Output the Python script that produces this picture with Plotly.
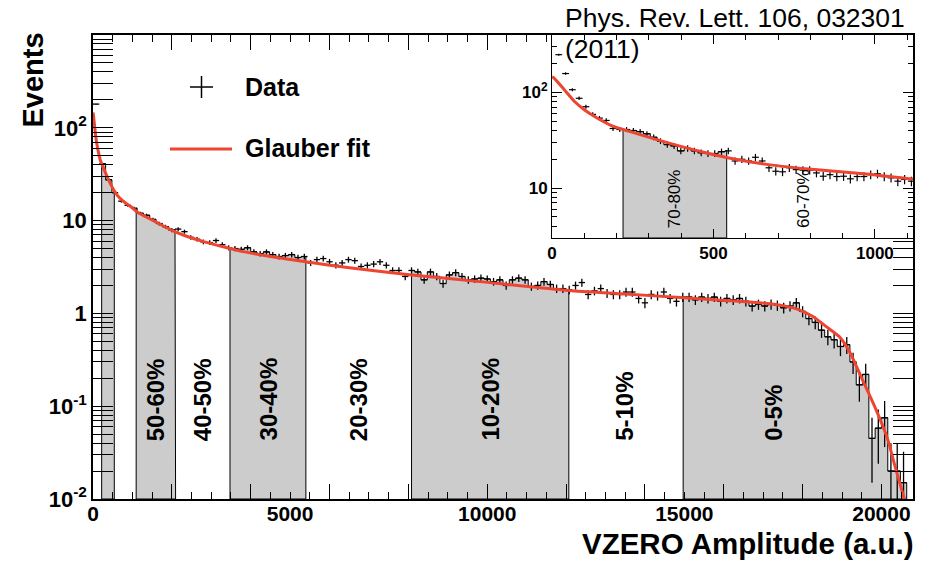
import numpy as np
import plotly.graph_objects as go

# ---------------- data ----------------
# main histogram (VZERO amplitude), bin width 160 a.u., starting at 0
hist_width = 160
hist_vals = [
    180, 41, 27.5, 20, 16.2, 14.6, 13.6, 12.0, 11.4, 10.3,
    9.3, 8.6, 7.9, 8.1, 7.6, 6.6, 6.3, 5.9, 5.8, 6.1,
    5.5, 5.1, 5.0, 4.9, 5.1, 4.6, 4.4, 4.6, 4.3, 4.1,
    4.2, 4.3, 4.0, 4.1, 3.5, 3.8, 3.9, 3.6, 3.3, 3.5,
    3.8, 3.7, 3.2, 3.3, 3.4, 3.6, 3.3, 2.9, 2.9, 2.5,
    2.9, 2.8, 2.3, 2.8, 2.5, 2.1, 2.6, 2.75, 2.5, 2.3,
    2.35, 2.4, 2.35, 2.2, 2.3, 2.0, 2.3, 2.4, 2.3, 1.95,
    2.0, 2.2, 2.05, 1.85, 1.85, 1.8, 2.0, 2.15, 1.6, 1.75,
    1.85, 1.65, 1.6, 1.6, 1.7, 1.7, 1.45, 1.3, 1.6, 1.55,
    1.7, 1.45, 1.35, 1.5, 1.5, 1.4, 1.5, 1.45, 1.5, 1.35,
    1.45, 1.4, 1.45, 1.35, 1.2, 1.25, 1.2, 1.25, 1.22, 1.15,
    1.2, 1.3, 1.05, 0.88, 0.80, 0.66, 0.56, 0.52, 0.44, 0.46,
    0.30, 0.17, 0.22, 0.045, 0.058, 0.075, 0.02, 0.02, 0.015,
]

# inset histogram (low amplitude region), bin width 21 a.u.
inset_width = 21
inset_vals = [
    249, 158, 107, 87, 71, 59, 54, 51, 42, 41,
    41, 40, 39, 37, 34, 31, 28.5, 27.6, 24.5, 26,
    24.5, 23.4, 23, 23, 24, 24.5, 19.2, 20, 19.2, 21,
    19.2, 16.3, 15, 14.8, 16.3, 15.6, 15.4, 15.4, 14.4, 13.3,
    13.8, 13.2, 13.3, 12.5, 13.2, 13.2, 13.8, 14.1, 13.2, 12.8,
    11.8, 12.3, 11.8,
]

# Glauber fit curve
fit_x = [0, 6, 38, 69, 100, 132, 184, 220, 288, 393, 476, 540, 659, 795, 973,
         1119, 1300, 1565, 2070, 2410, 2830, 3250, 3850, 4500, 5400, 6500, 8080,
         9800, 12070, 13500, 15000, 16000, 16900, 17400, 17900, 18250, 18600,
         18950, 19200, 19550, 19870, 20150, 20350, 20580]
fit_y = [146, 142, 107, 81, 66, 56, 45, 41, 35, 27.6, 23.4, 20.9, 17.8, 15.8, 14.0,
         12.4, 11.2, 9.8, 7.6, 6.7, 5.9, 5.3, 4.6, 4.1, 3.6, 3.1, 2.6,
         2.2, 1.76, 1.62, 1.47, 1.38, 1.30, 1.23, 1.10, 0.93, 0.72,
         0.55, 0.38, 0.18, 0.09, 0.045, 0.022, 0.01]

# centrality class boundaries (a.u.)
gray_bands = [(220, 540), (1095, 2095), (3475, 5400), (8080, 12070), (14970, 20640)]
band_labels = ["50-60%", "40-50%", "30-40%", "20-30%", "10-20%", "5-10%", "0-5%"]
label_x = [1595, 2785, 4440, 6740, 10075, 13480, 17270]
inset_band = (220, 541)
inset_labels = ["70-80%", "60-70%"]
inset_label_x = [380, 779]

x_tick_vals = [0, 5000, 10000, 15000, 20000]
x_tick_text = ["0", "5000", "10000", "15000", "20000"]
y_tick_vals = [0.01, 0.1, 1, 10, 100]
y_tick_text = ["10<sup>-2</sup>", "10<sup>-1</sup>", "1", "10", "10<sup>2</sup>"]

# ---------------- helpers ----------------
hist_centers = [hist_width / 2 + hist_width * i for i in range(len(hist_vals))]
inset_centers = [inset_width * (i + 1) for i in range(len(inset_vals))]
# Poisson-like statistical errors
hist_err = [float(np.sqrt(v * 0.02)) for v in hist_vals]
inset_err = [float(np.sqrt(v * 0.15)) for v in inset_vals]


def step_outline(centers, vals, width, a, b, floor):
    xs, ys = [a], [floor]
    last = a
    for c, v in zip(centers, vals):
        l, r = c - width / 2, c + width / 2
        if r <= a or l >= b:
            continue
        x0, x1 = max(l, a), min(r, b)
        xs += [x0, x1]
        ys += [v, v]
        last = x1
    xs += [last, a]
    ys += [floor, floor]
    return xs, ys


RED = "rgb(238,68,48)"
GRAY = "rgb(204,204,204)"
FONT = "Liberation Sans, Arial, sans-serif"

fig = go.Figure()

# main: shaded centrality classes
for a, b in gray_bands:
    xs, ys = step_outline(hist_centers, hist_vals, hist_width, a, b, 0.01)
    fig.add_trace(go.Scatter(x=xs, y=ys, mode="lines", fill="toself", fillcolor=GRAY,
                             line=dict(color="black", width=1), hoverinfo="skip",
                             showlegend=False, xaxis="x", yaxis="y"))

# main: data (crosses: bin width x statistical error)
fig.add_trace(go.Scatter(
    x=hist_centers, y=hist_vals, mode="markers",
    marker=dict(size=1, color="black", opacity=0),
    error_x=dict(type="constant", value=hist_width / 2, width=0, thickness=1.3, color="black"),
    error_y=dict(type="data", array=hist_err, width=0, thickness=1.3, color="black"),
    showlegend=False, xaxis="x", yaxis="y"))

# main: fit
fig.add_trace(go.Scatter(x=fit_x, y=fit_y, mode="lines",
                         line=dict(color=RED, width=3, shape="spline", smoothing=0.6),
                         showlegend=False, xaxis="x", yaxis="y"))

# inset: shaded class
xs, ys = step_outline(inset_centers, inset_vals, inset_width, inset_band[0], inset_band[1], 3)
fig.add_trace(go.Scatter(x=xs, y=ys, mode="lines", fill="toself", fillcolor=GRAY,
                         line=dict(color="black", width=1), hoverinfo="skip",
                         showlegend=False, xaxis="x2", yaxis="y2"))
# inset: data
fig.add_trace(go.Scatter(
    x=inset_centers, y=inset_vals, mode="markers",
    marker=dict(size=1, color="black", opacity=0),
    error_x=dict(type="constant", value=inset_width / 2, width=0, thickness=1.2, color="black"),
    error_y=dict(type="data", array=inset_err, width=0, thickness=1.2, color="black"),
    showlegend=False, xaxis="x2", yaxis="y2"))
# inset: fit
fig.add_trace(go.Scatter(x=fit_x, y=fit_y, mode="lines",
                         line=dict(color=RED, width=3, shape="spline", smoothing=0.6),
                         showlegend=False, xaxis="x2", yaxis="y2"))

# dummy trace for tall-tick overlay axis
fig.add_trace(go.Scatter(x=[None], y=[None], xaxis="x3", yaxis="y", showlegend=False))

W, H = 930, 561
L, R, T, B = 93, 17, 35, 62
pw, ph = W - L - R, H - T - B


def px2paper(px, py):
    return (px - L) / pw, (H - B - py) / ph


y_minor = [m * 10.0 ** e for e in range(-2, 3) for m in range(2, 10)]
y2_minor = [m * 10.0 ** e for e in range(0, 3) for m in range(2, 10) if 3 <= m * 10.0 ** e <= 400]

axis_common = dict(showgrid=False, zeroline=False, showline=True, linecolor="black",
                   mirror="allticks", ticks="inside", tickcolor="black")

ix0, iy1 = px2paper(552, 238)

fig.update_layout(
    width=W, height=H,
    margin=dict(l=L, r=R, t=T, b=B),
    plot_bgcolor="white", paper_bgcolor="white",
    font=dict(family=FONT, color="black"),
    showlegend=False,
    xaxis=dict(**axis_common, domain=[0, 1], anchor="y", range=[0, 20800], linewidth=1.5,
               tickmode="array", tickvals=x_tick_vals, ticktext=x_tick_text, ticklen=7,
               tickwidth=1.2, tickfont=dict(size=21, weight="bold"), ticklabelstandoff=-5,
               minor=dict(tickmode="linear", tick0=0, dtick=500, ticks="inside", ticklen=7,
                          tickwidth=1.2, tickcolor="black")),
    xaxis3=dict(overlaying="x", anchor="y", range=[0, 20800], showgrid=False, zeroline=False,
                showline=False, tickmode="array", tickvals=list(range(0, 20001, 2000)),
                ticks="inside", ticklen=15, tickwidth=1.2, tickcolor="black",
                showticklabels=False, mirror="allticks", side="bottom"),
    yaxis=dict(**axis_common, domain=[0, 1], anchor="x", type="log", range=[-2, 3], linewidth=1.5,
               tickmode="array", tickvals=y_tick_vals, ticktext=y_tick_text, ticklen=20,
               tickwidth=1.2, tickfont=dict(size=22, weight="bold"),
               minor=dict(tickmode="array", tickvals=y_minor, ticks="inside", ticklen=11,
                          tickwidth=1.2, tickcolor="black")),
    xaxis2=dict(**axis_common, domain=[ix0, 1], anchor="y2", range=[0, 1118], linewidth=1,
                tickmode="array", tickvals=[0, 500, 1000], ticktext=["0", "500", "1000"],
                ticklen=9, tickwidth=1, tickfont=dict(size=17, weight="bold"),
                minor=dict(tickmode="linear", tick0=0, dtick=100, ticks="inside", ticklen=5,
                           tickwidth=1, tickcolor="black")),
    yaxis2=dict(**axis_common, domain=[iy1, 1], anchor="x2", type="log",
                range=[np.log10(3), np.log10(400)], linewidth=1,
                tickmode="array", tickvals=[10, 100], ticktext=["10", "10<sup>2</sup>"],
                ticklen=10, tickwidth=1, tickfont=dict(size=17, weight="bold"),
                minor=dict(tickmode="array", tickvals=y2_minor, ticks="inside", ticklen=5,
                           tickwidth=1, tickcolor="black")),
)

ann = []
# band labels (main)
lab_y = np.log10(0.0402)
for t, xv in zip(band_labels, label_x):
    ann.append(dict(x=xv, y=lab_y, xref="x", yref="y", text=t, textangle=-90, showarrow=False,
                    xanchor="center", yanchor="bottom",
                    font=dict(size=24, weight="bold", family=FONT)))
# inset labels
for t, xv in zip(inset_labels, inset_label_x):
    ann.append(dict(x=xv, y=np.log10(3.64), xref="x2", yref="y2", text=t, textangle=-90,
                    showarrow=False, xanchor="center", yanchor="bottom",
                    font=dict(size=17, family=FONT)))
# axis titles
ex, ey = px2paper(32, 31)
ann.append(dict(x=ex, y=ey, xref="paper", yref="paper", text="Events", textangle=-90,
                showarrow=False, xanchor="center", yanchor="top",
                font=dict(size=29, weight="bold", family=FONT)))
tx, ty = px2paper(916, 543)
ann.append(dict(x=tx, y=ty, xref="paper", yref="paper", text="VZERO Amplitude (a.u.)",
                showarrow=False, xanchor="right", yanchor="middle",
                font=dict(size=29.5, weight="bold", family=FONT)))
# legend texts
for t, py in [("Data", 87), ("Glauber fit", 148)]:
    lx, ly = px2paper(243, py)
    ann.append(dict(x=lx, y=ly, xref="paper", yref="paper", text=t, showarrow=False,
                    xanchor="left", yanchor="middle",
                    font=dict(size=25, weight="bold", family=FONT)))
# reference text
for t, py in [("Phys. Rev. Lett. 106, 032301", 18), ("(2011)", 49)]:
    rx, ry = px2paper(563, py)
    ann.append(dict(x=rx, y=ry, xref="paper", yref="paper", text=t, showarrow=False,
                    xanchor="left", yanchor="middle", font=dict(size=26.5, family=FONT)))
fig.update_layout(annotations=ann)

# legend glyphs
shapes = []
a0, b0 = px2paper(190, 87)
a1, b1 = px2paper(213, 87)
shapes.append(dict(type="line", xref="paper", yref="paper", x0=a0, y0=b0, x1=a1, y1=b1,
                   line=dict(color="black", width=1.5)))
a0, b0 = px2paper(201.5, 76)
a1, b1 = px2paper(201.5, 98)
shapes.append(dict(type="line", xref="paper", yref="paper", x0=a0, y0=b0, x1=a1, y1=b1,
                   line=dict(color="black", width=1.5)))
a0, b0 = px2paper(170, 149)
a1, b1 = px2paper(232, 149)
shapes.append(dict(type="line", xref="paper", yref="paper", x0=a0, y0=b0, x1=a1, y1=b1,
                   line=dict(color=RED, width=3)))
fig.update_layout(shapes=shapes)

fig.write_html("out.html")
